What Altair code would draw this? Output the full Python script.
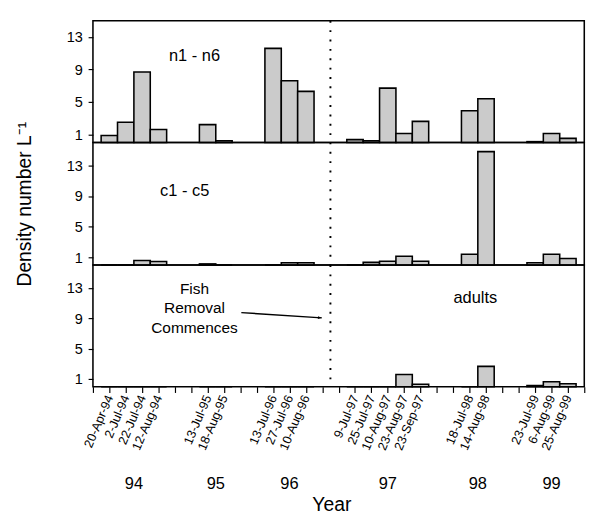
import altair as alt
import pandas as pd

# ---------------- data ----------------
dates = ["20-Apr-94", "2-Jul-94", "22-Jul-94", "12-Aug-94",
         "13-Jul-95", "18-Aug-95",
         "13-Jul-96", "27-Jul-96", "10-Aug-96",
         "9-Jul-97", "25-Jul-97", "10-Aug-97", "23-Aug-97", "23-Sep-97",
         "18-Jul-98", "14-Aug-98",
         "23-Jul-99", "6-Aug-99", "25-Aug-99"]
slots = [1, 2, 3, 4, 7, 8, 11, 12, 13, 16, 17, 18, 19, 20, 23, 24, 27, 28, 29]

nauplii = [0.85, 2.5, 8.7, 1.6, 2.2, 0.2, 11.6, 7.6, 6.3,
           0.35, 0.2, 6.7, 1.1, 2.6, 3.9, 5.4, 0.1, 1.1, 0.5]
copepodites = [0.0, 0.0, 0.6, 0.45, 0.15, 0.0, 0.0, 0.3, 0.3,
               0.0, 0.35, 0.5, 1.15, 0.5, 1.4, 14.8, 0.3, 1.4, 0.85]
adults = [0.0, 0.0, 0.0, 0.0, 0.0, 0.0, 0.0, 0.0, 0.0,
          0.0, 0.0, 0.0, 1.6, 0.33, 0.0, 2.67, 0.15, 0.64, 0.38]

years = ["94", "95", "96", "97", "98", "99"]
year_pos = [2.5, 7.5, 12, 18, 23.5, 28]
removal_pos = [14.5]
y_ticks = [1, 5, 9, 13]

FONT = "Liberation Sans"
W = 509
N_SLOTS = 30

xscale = alt.Scale(domain=[0, N_SLOTS], nice=False, zero=False)

lab = [""] * (N_SLOTS + 1)
for s, d in zip(slots, dates):
    lab[s] = d
label_expr = "[" + ",".join("'" + t + "'" for t in lab) + "][datum.value]"


def make_panel(values, ymax, xaxis, yaxis, texts):
    df = pd.DataFrame({"slot": slots, "date": dates, "value": values})
    yscale = alt.Scale(domain=[0, ymax], nice=False, zero=True)

    def X(field):
        return alt.X(field, type="quantitative", scale=xscale, axis=xaxis)

    def Y(field):
        return alt.Y(field, type="quantitative", scale=yscale, axis=yaxis)

    bars = alt.Chart(df).transform_calculate(
        x0="datum.slot - 0.5", x1="datum.slot + 0.5", base="0"
    ).mark_rect(fill="#cbcbcb", stroke="black", strokeWidth=1.6).encode(
        x=X("x0"), x2="x1:Q", y=Y("value"), y2="base:Q"
    )
    rule = alt.Chart(pd.DataFrame({"x": removal_pos})).mark_rule(
        color="black", strokeWidth=2, strokeDash=[2, 7.7]
    ).encode(x=X("x"))
    layers = [bars, rule]
    for (txt, tx, ty, size) in texts:
        layers.append(
            alt.Chart(pd.DataFrame({"x": [tx], "y": [ty], "t": [txt]})).mark_text(
                font=FONT, fontSize=size, color="black", lineBreak="\n", lineHeight=20
            ).encode(x=X("x"), y=Y("y"), text="t:N")
        )
    return layers, X, Y


def y_axis(title=None):
    kw = dict(values=y_ticks, grid=False, tickSize=5, tickWidth=1.2,
              labelPadding=6, labelFontSize=15, domain=False)
    if title:
        return alt.Axis(title=title, titleFontSize=20, titleFontWeight="normal",
                        titlePadding=33, **kw)
    return alt.Axis(title=None, **kw)


# panel 1
l1, X1, Y1 = make_panel(nauplii, 15, None, y_axis(),
                        [("n1 - n6", 6.2, 10.6, 17)])
p1 = alt.layer(*l1).properties(width=W, height=126)

# panel 2
l2, X2, Y2 = make_panel(copepodites, 16, None, y_axis("Density  number L⁻¹"),
                        [("c1 - c5", 5.6, 9.7, 17)])
p2 = alt.layer(*l2).properties(width=W, height=127)

# panel 3
xaxis3 = alt.Axis(values=list(range(N_SLOTS + 1)), labelExpr=label_expr,
                  labelAngle=293, labelFontSize=13, labelPadding=3,
                  labelOverlap=False, labelFlush=False, labelBound=False,
                  tickSize=6, tickWidth=1.2, domain=False, grid=False,
                  title="Year", titleFontSize=20, titleFontWeight="normal",
                  titleX=247, titleY=128, titleBaseline="alphabetic")
l3, X3, Y3 = make_panel(adults, 16, xaxis3, y_axis(),
                        [("adults", 23.35, 11.6, 17),
                         ("Fish\nRemoval\nCommences", 6.2, 12.8, 16)])

arrow_df = pd.DataFrame({"x": [9.06], "y": [9.74], "x2": [13.97], "y2": [9.05]})
arrow_line = alt.Chart(arrow_df).mark_rule(color="black", strokeWidth=1.5).encode(
    x=X3("x"), y=Y3("y"), x2="x2:Q", y2="y2:Q")
arrow_head = alt.Chart(arrow_df).mark_point(
    shape="M-2,-0.7L0,0L-2,0.7Z", filled=True, color="black", size=16,
    angle=3.7, opacity=1
).encode(x=X3("x2"), y=Y3("y2"))

year_df = pd.DataFrame({"x": year_pos, "t": years})
year_text = alt.Chart(year_df).mark_text(
    font=FONT, fontSize=17, color="black", baseline="middle"
).encode(x=X3("x"), y=alt.value(227), text="t:N")

p3 = alt.layer(*l3, arrow_line, arrow_head, year_text).properties(width=W, height=126)

chart = alt.vconcat(p1, p2, p3, spacing=0, bounds="flush").resolve_scale(
    x="independent", y="independent"
).properties(
    padding={"left": 6, "top": 2, "right": 0, "bottom": 0}
).configure_view(
    stroke="black", strokeWidth=1.6
).configure_axis(
    labelFont=FONT, titleFont=FONT, labelColor="black", titleColor="black",
    tickColor="black", domainColor="black"
).configure_text(font=FONT)

chart.save("out.html", embed_options={"renderer": "svg", "actions": False})
